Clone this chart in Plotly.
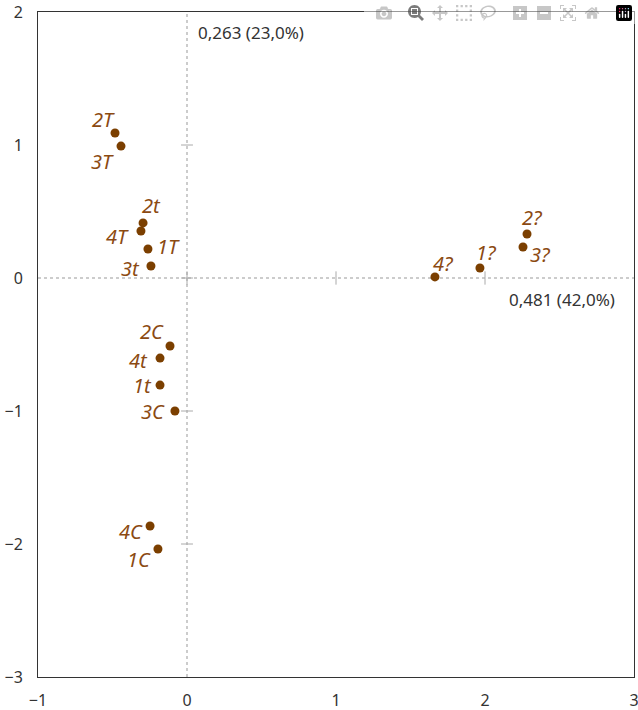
import plotly.graph_objects as go

labels = ["2T", "3T", "2t", "4T", "1T", "3t", "2C", "4t", "1t", "3C", "4C", "1C", "4?", "1?", "2?", "3?"]
dim1 = [-0.483, -0.443, -0.295, -0.309, -0.262, -0.242, -0.114, -0.181, -0.181, -0.081, -0.248, -0.195, 1.664, 1.966, 2.282, 2.255]
dim2 = [1.090, 0.992, 0.414, 0.353, 0.218, 0.090, -0.511, -0.602, -0.805, -1.000, -1.865, -2.038, 0.008, 0.075, 0.331, 0.233]
# label offsets from each point (pixels, styling only)
label_dx = [-12, -18, 8, -23, 21, -20, -18, -22, -18, -22, -19, -19, 9, 7, 5, 17]
label_dy = [14, -15, 17, -5, 3, -2, 14, -2, 0, 0, -5, -10, 13, 16, 16, -7]
x_ticks = [-1, 0, 1, 2, 3]
x_tick_text = ["\u22121", "0", "1", "2", "3"]
y_ticks = [-3, -2, -1, 0, 1, 2]
y_tick_text = ["\u22123", "\u22122", "\u22121", "0", "1", "2"]
x_axis_label = "0,481 (42,0%)"
y_axis_label = "0,263 (23,0%)"

marker_col = "#7b3f00"
label_col = "#8b4a12"
fig = go.Figure()
fig.add_trace(go.Scatter(
    x=dim1, y=dim2, mode="markers",
    marker=dict(color=marker_col, size=9),
    hoverinfo="skip", showlegend=False, cliponaxis=False,
))

annotations = []
for lab, xv, yv, dx, dy in zip(labels, dim1, dim2, label_dx, label_dy):
    annotations.append(dict(x=xv, y=yv, xref="x", yref="y", text=lab, showarrow=False,
                            xanchor="center", yanchor="middle", xshift=dx, yshift=dy,
                            font=dict(family="Noto Sans", size=20, color=label_col, style="italic")))
annotations += [
    dict(x=0, y=1, xref="x", yref="paper", text=y_axis_label, showarrow=False,
         xanchor="left", yanchor="middle", xshift=9, yshift=-20, font=dict(size=17, color="#333")),
    dict(x=1, y=0, xref="paper", yref="y", text=x_axis_label, showarrow=False,
         xanchor="right", yanchor="middle", xshift=-17, yshift=-21, font=dict(size=17, color="#333")),
]

shapes = [
    dict(type="line", xref="x", yref="paper", x0=0, x1=0, y0=0, y1=1,
         line=dict(color="#999", width=1, dash="dot"), layer="below"),
    dict(type="line", xref="paper", yref="y", x0=0, x1=1, y0=0, y1=0,
         line=dict(color="#999", width=1, dash="dot"), layer="below"),
]
for v in y_ticks[1:-1]:
    shapes.append(dict(type="line", xref="x", yref="y", x0=-0.04, x1=0.04, y0=v, y1=v,
                       line=dict(color="#aaa", width=1), layer="below"))
for v in x_ticks[1:-1]:
    shapes.append(dict(type="line", xref="x", yref="y", x0=v, x1=v, y0=-0.05, y1=0.05,
                       line=dict(color="#aaa", width=1), layer="below"))

fig.update_layout(
    width=638, height=710,
    margin=dict(l=38, r=4, t=12, b=33),
    plot_bgcolor="white", paper_bgcolor="white",
    font=dict(family="Noto Sans", size=16, color="#333"),
    shapes=shapes,
    annotations=annotations,
    xaxis=dict(range=[-1, 3], tickvals=x_ticks, ticktext=x_tick_text,
               showgrid=False, zeroline=False, showline=True, linecolor="#333", linewidth=1,
               mirror=True, ticks="", ticklabelstandoff=9, automargin=False,
               ticklabeloverflow="allow", tickfont=dict(size=16)),
    yaxis=dict(range=[-3, 2], tickvals=y_ticks, ticktext=y_tick_text,
               showgrid=False, zeroline=False, showline=True, linecolor="#333", linewidth=1,
               mirror=True, ticks="", ticklabelstandoff=11, automargin=False,
               ticklabeloverflow="allow", tickfont=dict(size=16)),
)
fig.write_html("out.html",
               post_script="document.body.style.margin='0px'; document.body.style.overflow='hidden';")
